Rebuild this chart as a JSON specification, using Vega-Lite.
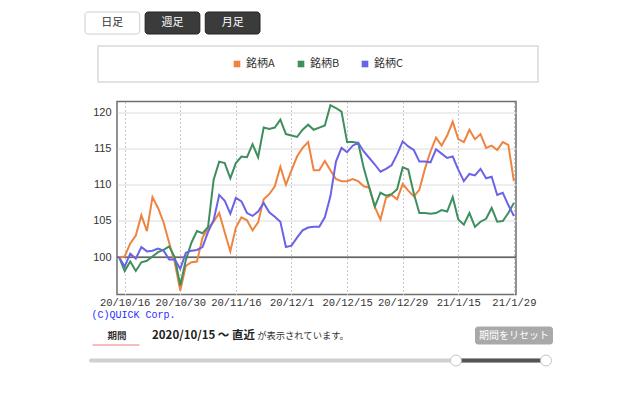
{
  "$schema": "https://vega.github.io/schema/vega-lite/v6.json",
  "background": "#ffffff",
  "padding": {"left": 84, "top": 11, "right": 0, "bottom": 0},
  "config": {
    "legend": {"disable": true},
    "view": {"stroke": null},
    "font": "Noto Sans CJK JP"
  },
  "spacing": 10,
  "vconcat": [
    {
      "width": 175,
      "height": 22,
      "data": {"values": [
        {"tab": "日足", "selected": true},
        {"tab": "週足", "selected": false},
        {"tab": "月足", "selected": false}
      ]},
      "encoding": {
        "x": {"field": "tab", "type": "nominal", "sort": null, "axis": null,
              "scale": {"paddingInner": 0.09, "paddingOuter": 0}}
      },
      "layer": [
        {
          "mark": {"type": "rect", "cornerRadius": 3, "strokeWidth": 1},
          "encoding": {
            "fill": {"condition": {"test": "datum.selected", "value": "#ffffff"}, "value": "#3b3b3b"},
            "stroke": {"condition": {"test": "datum.selected", "value": "#cfcfcf"}, "value": "#222222"}
          }
        },
        {
          "mark": {"type": "text", "fontSize": 11, "font": "Noto Sans CJK JP"},
          "encoding": {
            "text": {"field": "tab"},
            "color": {"condition": {"test": "datum.selected", "value": "#333333"}, "value": "#ffffff"}
          }
        }
      ]
    },
    {
      "spacing": 16.5,
      "vconcat": [
        {
          "spacing": 0,
          "bounds": "flush",
          "hconcat": [
            {"width": 13, "height": 36, "data": {"values": [{}]}, "mark": {"type": "text", "text": ""}},
            {
              "width": 440,
              "height": 36,
              "view": {"fill": "#ffffff", "stroke": "#d9d9d9", "strokeWidth": 1.5},
              "data": {"values": [{"series": "銘柄A"}, {"series": "銘柄B"}, {"series": "銘柄C"}]},
              "encoding": {
                "x": {"field": "series", "type": "nominal", "sort": null, "axis": null,
                      "scale": {"type": "point", "range": [139, 267], "padding": 0}}
              },
              "layer": [
                {
                  "mark": {"type": "point", "shape": "square", "filled": true, "size": 44, "opacity": 1},
                  "encoding": {
                    "color": {"field": "series", "type": "nominal",
                              "scale": {"domain": ["銘柄A", "銘柄B", "銘柄C"], "range": ["#ef8440", "#3e8e5e", "#6a63e8"]},
                              "legend": null}
                  }
                },
                {
                  "mark": {"type": "text", "align": "left", "dx": 9, "fontSize": 11, "color": "#333333", "font": "Noto Sans CJK JP"},
                  "encoding": {"text": {"field": "series"}}
                }
              ]
            }
          ]
        },
        {
          "spacing": 6,
          "vconcat": [
            {
              "spacing": 0,
              "bounds": "flush",
              "hconcat": [
                {"width": 32, "height": 193, "data": {"values": [{}]}, "mark": {"type": "text", "text": ""}},
                {
                  "width": 399,
                  "height": 193,
                  "view": {"fill": "#ffffff", "stroke": "#6e6e6e", "strokeWidth": 1.5},
                  "data": {"values": [
                    {"date":"20/10/15","銘柄A":100,"銘柄B":100,"銘柄C":100},
                    {"date":"20/10/16","銘柄A":100.1,"銘柄B":98.1,"銘柄C":98.7},
                    {"date":"20/10/19","銘柄A":101.9,"銘柄B":99.4,"銘柄C":100.5},
                    {"date":"20/10/20","銘柄A":103.0,"銘柄B":98.1,"銘柄C":99.8},
                    {"date":"20/10/21","銘柄A":105.8,"銘柄B":99.3,"銘柄C":101.4},
                    {"date":"20/10/22","銘柄A":103.6,"銘柄B":99.5,"銘柄C":100.8},
                    {"date":"20/10/23","銘柄A":108.3,"銘柄B":100.1,"銘柄C":100.9},
                    {"date":"20/10/26","銘柄A":106.8,"銘柄B":100.7,"銘柄C":101.2},
                    {"date":"20/10/27","銘柄A":104.8,"銘柄B":101.0,"銘柄C":100.9},
                    {"date":"20/10/28","銘柄A":102.0,"銘柄B":101.5,"銘柄C":99.7},
                    {"date":"20/10/29","銘柄A":99.3,"銘柄B":100.0,"銘柄C":99.7},
                    {"date":"20/10/30","銘柄A":95.4,"銘柄B":96.1,"銘柄C":98.4},
                    {"date":"20/11/2","銘柄A":98.8,"銘柄B":99.6,"銘柄C":100.6},
                    {"date":"20/11/4","銘柄A":99.3,"銘柄B":102.0,"銘柄C":100.9},
                    {"date":"20/11/5","銘柄A":99.4,"銘柄B":103.6,"銘柄C":101.0},
                    {"date":"20/11/6","銘柄A":102.7,"銘柄B":103.3,"銘柄C":101.4},
                    {"date":"20/11/9","銘柄A":104.0,"銘柄B":104.2,"銘柄C":103.5},
                    {"date":"20/11/10","銘柄A":104.9,"銘柄B":110.7,"銘柄C":105.1},
                    {"date":"20/11/11","銘柄A":106.1,"銘柄B":113.2,"銘柄C":108.6},
                    {"date":"20/11/12","銘柄A":103.4,"銘柄B":113.0,"銘柄C":107.8},
                    {"date":"20/11/13","銘柄A":100.8,"銘柄B":110.9,"銘柄C":106.0},
                    {"date":"20/11/16","銘柄A":104.1,"銘柄B":113.0,"銘柄C":108.2},
                    {"date":"20/11/17","銘柄A":105.5,"銘柄B":113.9,"銘柄C":107.7},
                    {"date":"20/11/18","銘柄A":105.1,"銘柄B":113.8,"銘柄C":106.1},
                    {"date":"20/11/19","銘柄A":103.7,"銘柄B":115.6,"銘柄C":105.7},
                    {"date":"20/11/20","銘柄A":104.8,"銘柄B":113.8,"銘柄C":106.3},
                    {"date":"20/11/24","銘柄A":108.0,"銘柄B":117.9,"銘柄C":107.5},
                    {"date":"20/11/25","銘柄A":108.7,"銘柄B":117.7,"銘柄C":106.2},
                    {"date":"20/11/26","銘柄A":109.8,"銘柄B":117.9,"銘柄C":105.6},
                    {"date":"20/11/27","銘柄A":112.5,"銘柄B":119.0,"銘柄C":104.9},
                    {"date":"20/11/30","銘柄A":110.0,"銘柄B":117.0,"銘柄C":101.4},
                    {"date":"20/12/1","銘柄A":112.0,"銘柄B":116.8,"銘柄C":101.6},
                    {"date":"20/12/2","銘柄A":113.9,"銘柄B":116.6,"銘柄C":102.7},
                    {"date":"20/12/3","銘柄A":115.1,"銘柄B":117.6,"銘柄C":103.7},
                    {"date":"20/12/4","銘柄A":115.9,"銘柄B":118.3,"銘柄C":104.1},
                    {"date":"20/12/7","銘柄A":112.0,"銘柄B":117.6,"銘柄C":104.2},
                    {"date":"20/12/8","銘柄A":112.0,"銘柄B":117.9,"銘柄C":104.2},
                    {"date":"20/12/9","銘柄A":113.3,"銘柄B":118.2,"銘柄C":105.5},
                    {"date":"20/12/10","銘柄A":112.0,"銘柄B":121.0,"銘柄C":108.4},
                    {"date":"20/12/11","銘柄A":110.8,"銘柄B":120.6,"銘柄C":113.2},
                    {"date":"20/12/14","銘柄A":110.5,"銘柄B":120.1,"銘柄C":115.1},
                    {"date":"20/12/15","銘柄A":110.5,"銘柄B":115.9,"銘柄C":114.5},
                    {"date":"20/12/16","銘柄A":110.8,"銘柄B":115.9,"銘柄C":115.4},
                    {"date":"20/12/17","銘柄A":110.5,"銘柄B":115.8,"銘柄C":115.8},
                    {"date":"20/12/18","銘柄A":109.8,"銘柄B":112.3,"銘柄C":114.6},
                    {"date":"20/12/21","銘柄A":109.6,"銘柄B":109.6,"銘柄C":113.7},
                    {"date":"20/12/22","銘柄A":106.9,"銘柄B":107.0,"銘柄C":112.8},
                    {"date":"20/12/23","銘柄A":105.2,"銘柄B":108.9,"銘柄C":111.8},
                    {"date":"20/12/24","銘柄A":108.2,"銘柄B":108.5,"銘柄C":112.2},
                    {"date":"20/12/25","銘柄A":108.6,"銘柄B":108.7,"銘柄C":112.7},
                    {"date":"20/12/28","銘柄A":108.0,"銘柄B":109.4,"銘柄C":114.2},
                    {"date":"20/12/29","銘柄A":110.1,"銘柄B":112.4,"銘柄C":116.0},
                    {"date":"20/12/30","銘柄A":109.2,"銘柄B":112.1,"銘柄C":115.3},
                    {"date":"21/1/4","銘柄A":108.4,"銘柄B":108.8,"銘柄C":114.8},
                    {"date":"21/1/5","銘柄A":109.3,"銘柄B":106.1,"銘柄C":113.2},
                    {"date":"21/1/6","銘柄A":112.2,"銘柄B":106.1,"銘柄C":113.2},
                    {"date":"21/1/7","銘柄A":114.6,"銘柄B":106.0,"銘柄C":113.1},
                    {"date":"21/1/8","銘柄A":116.5,"銘柄B":106.1,"銘柄C":114.9},
                    {"date":"21/1/12","銘柄A":115.4,"銘柄B":106.5,"銘柄C":114.3},
                    {"date":"21/1/13","銘柄A":116.8,"銘柄B":106.3,"銘柄C":113.7},
                    {"date":"21/1/14","銘柄A":118.7,"銘柄B":108.3,"銘柄C":113.9},
                    {"date":"21/1/15","銘柄A":116.3,"銘柄B":105.2,"銘柄C":112.1},
                    {"date":"21/1/18","銘柄A":115.9,"銘柄B":104.5,"銘柄C":110.5},
                    {"date":"21/1/19","銘柄A":117.6,"銘柄B":106.1,"銘柄C":111.5},
                    {"date":"21/1/20","銘柄A":116.3,"銘柄B":104.2,"銘柄C":111.3},
                    {"date":"21/1/21","銘柄A":117.0,"銘柄B":104.9,"銘柄C":112.2},
                    {"date":"21/1/22","銘柄A":115.1,"銘柄B":105.3,"銘柄C":110.9},
                    {"date":"21/1/25","銘柄A":115.4,"銘柄B":106.8,"銘柄C":111.1},
                    {"date":"21/1/26","銘柄A":114.8,"銘柄B":104.9,"銘柄C":108.6},
                    {"date":"21/1/27","銘柄A":115.9,"銘柄B":105.0,"銘柄C":108.9},
                    {"date":"21/1/28","銘柄A":115.5,"銘柄B":106.1,"銘柄C":107.2},
                    {"date":"21/1/29","銘柄A":110.5,"銘柄B":107.5,"銘柄C":105.7}
                  ]},
                  "transform": [{"fold": ["銘柄A", "銘柄B", "銘柄C"], "as": ["series", "value"]}],
                  "layer": [
                    {
                      "data": {"values": [{}]},
                      "mark": {"type": "rule", "color": "#3a3a3a", "strokeWidth": 1.2},
                      "encoding": {
                        "y": {"datum": 100, "type": "quantitative",
                              "scale": {"domain": [94.85, 121.5], "nice": false, "zero": false},
                              "axis": {"values": [100, 105, 110, 115, 120], "grid": true, "gridColor": "#dcdcdc", "ticks": false, "domain": false,
                                       "labelFont": "Liberation Sans", "labelFontSize": 11, "labelColor": "#333333", "labelPadding": 6, "title": null}}
                      }
                    },
                    {
                      "mark": {"type": "line", "strokeWidth": 2},
                      "encoding": {
                        "x": {"field": "date", "type": "ordinal", "sort": null,
                              "scale": {"type": "point", "padding": 0.38},
                              "axis": {"values": ["20/10/16", "20/10/30", "20/11/16", "20/12/1", "20/12/15", "20/12/29", "21/1/15", "21/1/29"],
                                       "labelAngle": 0, "labelFont": "Liberation Mono", "labelFontSize": 10.5, "labelColor": "#333333", "labelPadding": 3,
                                       "ticks": false, "domain": false, "grid": true, "gridColor": "#c8c8c8", "gridDash": [2, 2], "gridWidth": 1,
                                       "labelOverlap": false,
                                       "title": "(C)QUICK Corp.", "titleFont": "Liberation Mono", "titleFontSize": 10, "titleFontWeight": "normal",
                                       "titleColor": "#2b2bff", "titleAnchor": "start", "titleAlign": "left", "titleX": -26, "titlePadding": 1}},
                        "y": {"field": "value", "type": "quantitative",
                              "scale": {"domain": [94.85, 121.5], "nice": false, "zero": false},
                              "axis": {"values": [100, 105, 110, 115, 120], "grid": true, "gridColor": "#dcdcdc", "ticks": false, "domain": false,
                                       "labelFont": "Liberation Sans", "labelFontSize": 11, "labelColor": "#333333", "labelPadding": 6, "title": null}},
                        "color": {"field": "series", "type": "nominal",
                                  "scale": {"domain": ["銘柄A", "銘柄B", "銘柄C"], "range": ["#ef8440", "#3e8e5e", "#6a63e8"]},
                                  "legend": null}
                      }
                    }
                  ]
                }
              ]
            },
            {
              "spacing": 8,
              "vconcat": [
                {
                  "spacing": 0,
                  "bounds": "flush",
                  "hconcat": [
                    {"width": 7, "height": 18, "data": {"values": [{}]}, "mark": {"type": "text", "text": ""}},
                    {
                      "width": 47, "height": 18,
                      "data": {"values": [{"label": "期間"}]},
                      "mark": {"type": "text", "fontSize": 9.5, "fontWeight": "bold", "color": "#333333", "font": "Noto Sans CJK JP", "dx": 1.5},
                      "encoding": {
                        "x": {"field": "label", "type": "nominal",
                              "axis": {"domain": true, "domainColor": "#f7bcbc", "domainWidth": 2, "labels": false, "ticks": false, "title": null, "grid": false}},
                        "text": {"field": "label"}
                      }
                    },
                    {
                      "width": 129, "height": 18,
                      "data": {"values": [{"label": "2020/10/15 ～ 直近"}]},
                      "mark": {"type": "text", "fontSize": 11.5, "fontWeight": "bold", "color": "#222222", "font": "Noto Sans CJK JP"},
                      "encoding": {"text": {"field": "label"}}
                    },
                    {
                      "width": 70, "height": 18,
                      "data": {"values": [{"label": "が表示されています。"}]},
                      "mark": {"type": "text", "fontSize": 9.3, "color": "#333333", "font": "Noto Sans CJK JP"},
                      "encoding": {"text": {"field": "label"}}
                    },
                    {"width": 137, "height": 18, "data": {"values": [{}]}, "mark": {"type": "text", "text": ""}},
                    {
                      "width": 78, "height": 18,
                      "view": {"fill": "#a9a9a9", "stroke": null, "cornerRadius": 3},
                      "data": {"values": [{"label": "期間をリセット"}]},
                      "mark": {"type": "text", "fontSize": 10, "color": "#ffffff", "font": "Noto Sans CJK JP"},
                      "encoding": {"text": {"field": "label"}}
                    }
                  ]
                },
                {
                  "spacing": 0,
                  "bounds": "flush",
                  "hconcat": [
                    {"width": 6, "height": 12, "data": {"values": [{}]}, "mark": {"type": "text", "text": ""}},
                    {
                      "width": 455, "height": 12,
                      "data": {"values": [
                        {"part": "track", "start": 0, "end": 100},
                        {"part": "selected", "start": 80.2, "end": 100}
                      ]},
                      "layer": [
                        {
                          "transform": [{"filter": "datum.part == 'track'"}],
                          "mark": {"type": "rule", "strokeWidth": 4, "strokeCap": "round", "color": "#d0d0d0"},
                          "encoding": {
                            "x": {"field": "start", "type": "quantitative", "scale": {"domain": [0, 100], "nice": false, "zero": false}, "axis": null},
                            "x2": {"field": "end"}
                          }
                        },
                        {
                          "transform": [{"filter": "datum.part == 'selected'"}],
                          "mark": {"type": "rule", "strokeWidth": 4, "color": "#555555"},
                          "encoding": {
                            "x": {"field": "start", "type": "quantitative", "scale": {"domain": [0, 100], "nice": false, "zero": false}, "axis": null},
                            "x2": {"field": "end"}
                          }
                        },
                        {
                          "transform": [{"filter": "datum.part == 'selected'"}],
                          "mark": {"type": "point", "filled": true, "fill": "#ffffff", "stroke": "#c4c4c4", "strokeWidth": 1, "size": 120, "opacity": 1},
                          "encoding": {
                            "x": {"field": "start", "type": "quantitative", "scale": {"domain": [0, 100], "nice": false, "zero": false}, "axis": null}
                          }
                        },
                        {
                          "transform": [{"filter": "datum.part == 'selected'"}],
                          "mark": {"type": "point", "filled": true, "fill": "#ffffff", "stroke": "#c4c4c4", "strokeWidth": 1, "size": 120, "opacity": 1},
                          "encoding": {
                            "x": {"field": "end", "type": "quantitative", "scale": {"domain": [0, 100], "nice": false, "zero": false}, "axis": null}
                          }
                        }
                      ]
                    }
                  ]
                }
              ]
            }
          ]
        }
      ]
    }
  ]
}
